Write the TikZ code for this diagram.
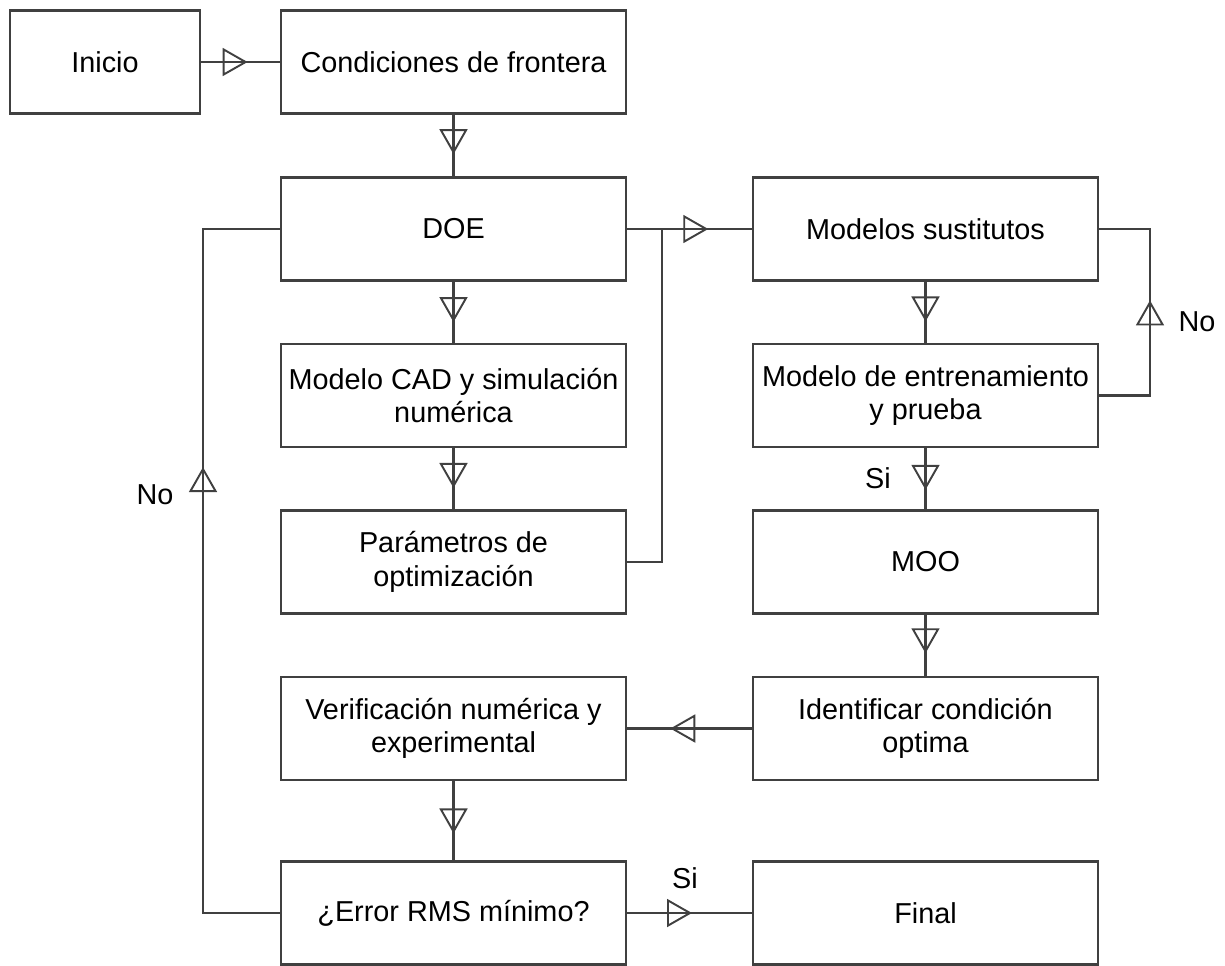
\documentclass[tikz,border=0pt]{standalone}
\usepackage{fontspec}
\setmainfont{Liberation Sans}
\usetikzlibrary{arrows.meta,decorations.markings}
\begin{document}
\begin{tikzpicture}[x=0.02cm,y=-0.02cm,
  ln/.style={draw=black!75,line width=1.2pt},
  box/.style={ln,rectangle,minimum width=6.9cm,minimum height=2.06cm,align=center,inner sep=2pt,
     font=\fontsize{16.4}{19}\selectfont},
  lbl/.style={font=\fontsize{16.4}{19}\selectfont},
  tri/.style={ln,postaction={decorate},decoration={markings,
     mark=at position #1 with {\arrow[line width=1.1pt]{Triangle[open,length=0.5cm,width=0.56cm]}}}}]
\useasboundingbox (0,0) rectangle (1225,965);
\node[box,minimum width=3.8cm] (inicio) at (105,62) {Inicio};
\node[box] (cond) at (453.5,62) {Condiciones de frontera};
\node[box] (doe) at (453.5,229) {DOE};
\node[box] (cad) at (453.5,395.5) {Modelo CAD y simulación\\numérica};
\node[box] (param) at (453.5,562) {Parámetros de\\optimización};
\node[box] (verif) at (453.5,728.5) {Verificación numérica y\\experimental};
\node[box] (error) at (453.5,913) {¿Error RMS mínimo?};
\node[box] (sust) at (925.5,229) {Modelos sustitutos};
\node[box] (entr) at (925.5,395.5) {Modelo de entrenamiento\\y prueba};
\node[box] (moo) at (925.5,562) {MOO};
\node[box] (ident) at (925.5,728.5) {Identificar condición\\optima};
\node[box] (final) at (925.5,913) {Final};

\coordinate (join) at (662,229);
\coordinate (ra) at (1150,395.5);
\coordinate (rb) at (1150,229);
\coordinate (la) at (203,913);
\coordinate (lb) at (203,229);

\draw[tri=0.59] (inicio) -- (cond);
\draw[tri=0.64] (cond) -- (doe);
\draw[tri=0.66] (doe) -- (cad);
\draw[tri=0.65] (cad) -- (param);
\draw[tri=0.65] (doe) -- (sust);
\draw[ln] (param.east) -| (join);
\draw[tri=0.65] (sust) -- (entr);
\draw[tri=0.544] (entr.east) -- (ra) -- (rb) -- (sust.east);
\draw[tri=0.68] (entr) -- (moo);
\draw[tri=0.63] (moo) -- (ident);
\draw[tri=0.654] (ident) -- (verif);
\draw[tri=0.66] (verif) -- (error);
\draw[tri=0.52] (error) -- (final);
\draw[tri=0.624] (error.west) -- (la) -- (lb) -- (doe.west);

\node[lbl] (no1) at (1197,322) {No};
\node[lbl] (si1) at (878,478) {Si};
\node[lbl] (no2) at (155,495) {No};
\node[lbl] (si2) at (685,878) {Si};
\end{tikzpicture}
\end{document}
